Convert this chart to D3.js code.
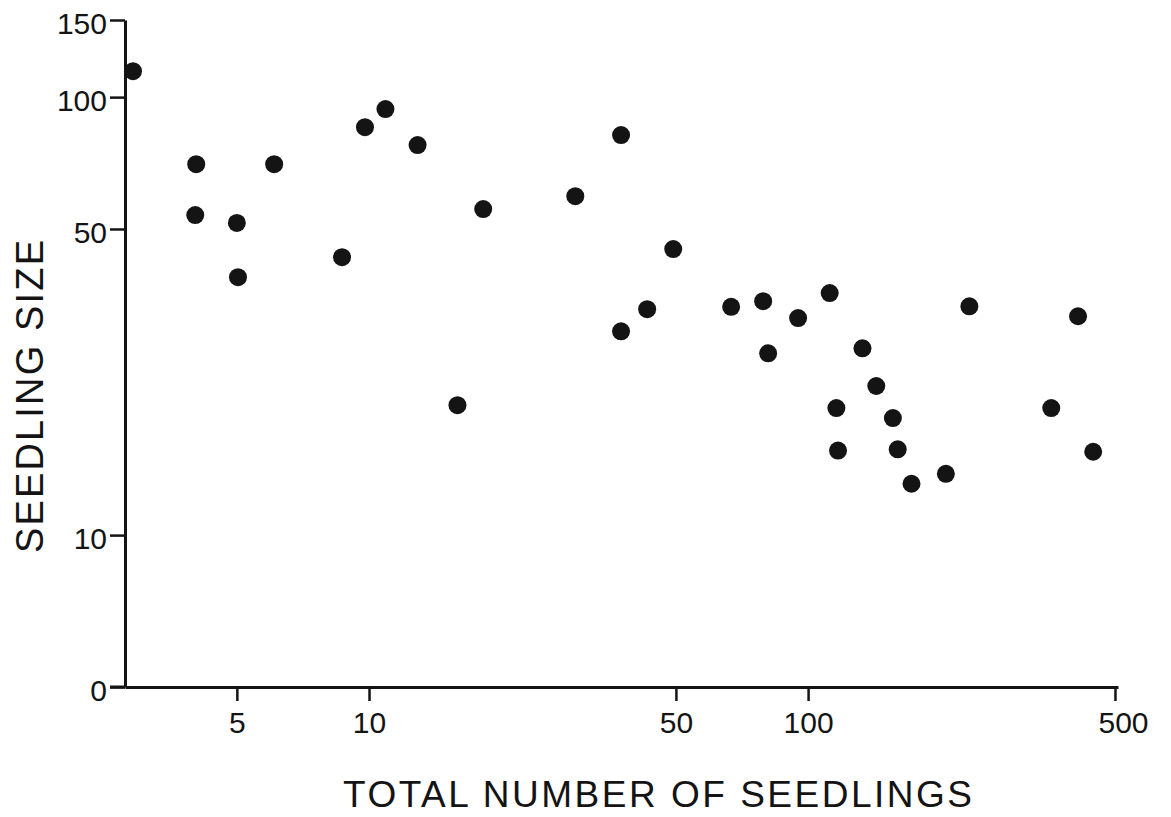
<!DOCTYPE html>
<html>
<head>
<meta charset="utf-8">
<script src="https://cdn.jsdelivr.net/npm/d3@7"></script>
<style>
  body { margin: 0; background: #fff; }
  svg { display: block; }
  .axis path, .axis line { stroke: #141414; }
  .axis text { font-family: "Liberation Sans", Arial, sans-serif; font-size: 30px; fill: #141414; }
  .label { font-family: "Liberation Sans", Arial, sans-serif; fill: #141414; }
</style>
</head>
<body>
<svg></svg>
<script>
var screen = {width: 1171, height: 817};

// total number of seedlings (x) and seedling size (y)
var totalSeedlings = [2.9, 4.04, 6.08, 4.02, 5.0, 5.03, 8.68, 9.79, 10.9, 12.9, 18.2,
                      15.9, 29.5, 37.5, 49.3, 43.0, 37.5, 66.8, 79.0, 94.9, 112, 81.1,
                      133, 143, 116, 156, 117, 160, 172, 206, 233, 412, 358, 446];
var seedlingSize = [114.6, 70.3, 70.3, 53.8, 51.6, 38.8, 43.1, 85.4, 93.9, 77.7, 55.5,
                    19.8, 59.4, 81.9, 45.0, 32.8, 29.2, 33.2, 34.2, 31.3, 35.7, 26.0,
                    26.7, 21.9, 19.5, 18.5, 15.6, 15.7, 13.1, 13.8, 33.3, 31.6, 19.5, 15.5];

var xTicks = [5, 10, 50, 100, 500];
var yMin = 4.5;
var yTicks = [yMin, 10, 50, 100, 150];

var svg = d3.select("svg")
    .attr("width", screen.width)
    .attr("height", screen.height)

var xScale = d3.scaleLog()
    .domain([2.781, 508])
    .range([125, 1118])

var yScale = d3.scaleLog()
    .domain([yMin, 150])
    .range([687, 20])

var xAxis = d3.axisBottom(xScale)
    .tickValues(xTicks)
    .tickFormat(function(d) { return d; })
    .tickSize(14)
    .tickSizeOuter(0)
    .tickPadding(11)

var yAxis = d3.axisLeft(yScale)
    .tickValues(yTicks)
    .tickFormat(function(d) { return d === yMin ? "0" : d; })
    .tickSize(15)
    .tickSizeOuter(0)
    .tickPadding(3)

var gx = svg.append("g")
    .attr("class", "axis")
    .attr("transform", "translate(0,687)")
    .call(xAxis)

gx.select(".domain").attr("stroke-width", 3)
gx.selectAll(".tick line").attr("stroke-width", 2.5)
gx.selectAll(".tick text").filter(function(d) { return d === 500; }).attr("dx", 8)

var gy = svg.append("g")
    .attr("class", "axis")
    .attr("transform", "translate(125,0)")
    .call(yAxis)

gy.select(".domain").attr("stroke-width", 3)
gy.selectAll(".tick line").attr("stroke-width", 2.5)
gy.selectAll(".tick text").attr("dy", "0.45em")

// extend x axis line left to the "0" tick
svg.append("line")
    .attr("x1", 110).attr("x2", 125)
    .attr("y1", 687).attr("y2", 687)
    .attr("stroke", "#141414")
    .attr("stroke-width", 3)

svg.append("g")
    .selectAll("circle")
    .data(totalSeedlings)
    .enter()
    .append("circle")
    .attr("cx", function(d) { return xScale(d); })
    .attr("cy", function(d, i) { return yScale(seedlingSize[i]); })
    .attr("r", 9)
    .attr("fill", "#141414")

svg.append("text")
    .attr("class", "label")
    .attr("x", 343)
    .attr("y", 807)
    .attr("font-size", 37)
    .attr("textLength", 629)
    .attr("lengthAdjust", "spacing")
    .text("TOTAL NUMBER OF SEEDLINGS")

svg.append("text")
    .attr("class", "label")
    .attr("transform", "translate(43,553) rotate(-90)")
    .attr("font-size", 38)
    .attr("textLength", 313)
    .attr("lengthAdjust", "spacing")
    .text("SEEDLING SIZE")
</script>
</body>
</html>
